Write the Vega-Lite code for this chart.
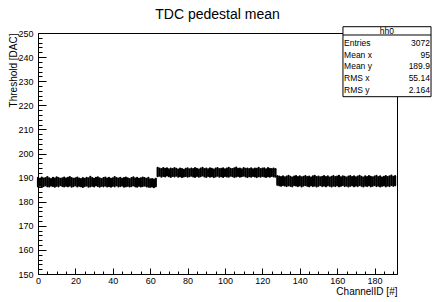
{
  "$schema": "https://vega.github.io/schema/vega-lite/v6.json",
  "width": 359,
  "height": 241,
  "autosize": {"type": "none"},
  "padding": {"left": 38, "top": 33, "right": 35, "bottom": 28},
  "background": "white",
  "config": {
    "view": {"stroke": "black", "strokeWidth": 1},
    "font": "Liberation Sans"
  },
  "title": {"text": "TDC pedestal mean", "font": "Liberation Sans", "fontSize": 14, "fontWeight": "normal", "color": "black", "offset": 4},
  "resolve": {"scale": {"x": "independent", "y": "independent"}},
  "layer": [
    {
      "data": {"values": [
        {"c":0,"lo":186.3,"hi":189.9},{"c":1,"lo":186.6,"hi":189.5},{"c":2,"lo":186.2,"hi":190.0},{"c":3,"lo":186.5,"hi":189.6},
        {"c":4,"lo":186.8,"hi":189.8},{"c":5,"lo":186.4,"hi":190.2},{"c":6,"lo":186.3,"hi":189.7},{"c":7,"lo":186.7,"hi":189.4},
        {"c":8,"lo":186.5,"hi":189.9},{"c":9,"lo":186.2,"hi":189.6},{"c":10,"lo":186.6,"hi":190.1},{"c":11,"lo":186.4,"hi":189.8},
        {"c":12,"lo":186.9,"hi":189.5},{"c":13,"lo":186.5,"hi":189.7},{"c":14,"lo":186.3,"hi":190.0},{"c":15,"lo":186.6,"hi":189.6},
        {"c":16,"lo":186.4,"hi":189.9},{"c":17,"lo":186.7,"hi":190.2},{"c":18,"lo":186.2,"hi":189.8},{"c":19,"lo":186.5,"hi":189.5},
        {"c":20,"lo":186.8,"hi":189.7},{"c":21,"lo":186.3,"hi":190.0},{"c":22,"lo":186.6,"hi":189.6},{"c":23,"lo":186.4,"hi":189.4},
        {"c":24,"lo":186.1,"hi":189.8},{"c":25,"lo":186.5,"hi":189.5},{"c":26,"lo":186.7,"hi":189.9},{"c":27,"lo":186.2,"hi":189.7},
        {"c":28,"lo":186.4,"hi":190.3},{"c":29,"lo":186.6,"hi":189.8},{"c":30,"lo":186.3,"hi":189.5},{"c":31,"lo":186.8,"hi":189.9},
        {"c":32,"lo":186.5,"hi":190.1},{"c":33,"lo":186.2,"hi":189.7},{"c":34,"lo":186.6,"hi":189.4},{"c":35,"lo":186.4,"hi":189.8},
        {"c":36,"lo":186.7,"hi":190.0},{"c":37,"lo":186.3,"hi":189.6},{"c":38,"lo":186.5,"hi":189.9},{"c":39,"lo":186.2,"hi":189.5},
        {"c":40,"lo":186.6,"hi":189.7},{"c":41,"lo":186.4,"hi":190.2},{"c":42,"lo":186.8,"hi":189.8},{"c":43,"lo":186.3,"hi":189.6},
        {"c":44,"lo":186.5,"hi":189.9},{"c":45,"lo":186.7,"hi":189.5},{"c":46,"lo":186.2,"hi":189.8},{"c":47,"lo":186.4,"hi":190.0},
        {"c":48,"lo":186.6,"hi":189.7},{"c":49,"lo":186.3,"hi":189.4},{"c":50,"lo":186.5,"hi":189.8},{"c":51,"lo":186.8,"hi":190.1},
        {"c":52,"lo":186.4,"hi":189.6},{"c":53,"lo":186.2,"hi":189.9},{"c":54,"lo":186.6,"hi":189.5},{"c":55,"lo":186.3,"hi":189.7},
        {"c":56,"lo":186.5,"hi":190.0},{"c":57,"lo":186.7,"hi":189.8},{"c":58,"lo":186.4,"hi":189.5},{"c":59,"lo":186.2,"hi":189.9},
        {"c":60,"lo":186.1,"hi":189.3},{"c":61,"lo":186.3,"hi":189.4},{"c":62,"lo":186.0,"hi":189.2},{"c":63,"lo":186.4,"hi":189.5},
        {"c":64,"lo":190.6,"hi":194.0},{"c":65,"lo":190.8,"hi":193.7},{"c":66,"lo":190.4,"hi":193.5},{"c":67,"lo":190.7,"hi":193.9},
        {"c":68,"lo":190.5,"hi":193.6},{"c":69,"lo":190.9,"hi":193.8},{"c":70,"lo":190.6,"hi":193.4},{"c":71,"lo":190.3,"hi":193.7},
        {"c":72,"lo":190.7,"hi":193.5},{"c":73,"lo":190.5,"hi":193.9},{"c":74,"lo":190.8,"hi":193.6},{"c":75,"lo":190.4,"hi":193.3},
        {"c":76,"lo":190.6,"hi":193.7},{"c":77,"lo":190.2,"hi":193.5},{"c":78,"lo":190.5,"hi":193.2},{"c":79,"lo":190.7,"hi":193.6},
        {"c":80,"lo":190.4,"hi":193.8},{"c":81,"lo":190.6,"hi":193.4},{"c":82,"lo":190.8,"hi":193.7},{"c":83,"lo":190.5,"hi":193.5},
        {"c":84,"lo":190.3,"hi":193.9},{"c":85,"lo":190.7,"hi":193.6},{"c":86,"lo":190.4,"hi":193.3},{"c":87,"lo":190.6,"hi":193.7},
        {"c":88,"lo":190.9,"hi":194.0},{"c":89,"lo":190.5,"hi":193.5},{"c":90,"lo":190.3,"hi":193.7},{"c":91,"lo":190.7,"hi":193.4},
        {"c":92,"lo":190.4,"hi":193.8},{"c":93,"lo":190.6,"hi":193.6},{"c":94,"lo":190.2,"hi":193.3},{"c":95,"lo":190.5,"hi":193.7},
        {"c":96,"lo":190.8,"hi":193.9},{"c":97,"lo":190.4,"hi":193.5},{"c":98,"lo":190.6,"hi":193.6},{"c":99,"lo":190.3,"hi":193.8},
        {"c":100,"lo":190.7,"hi":193.4},{"c":101,"lo":190.5,"hi":193.7},{"c":102,"lo":190.4,"hi":194.0},{"c":103,"lo":190.8,"hi":193.6},
        {"c":104,"lo":190.6,"hi":193.5},{"c":105,"lo":190.3,"hi":193.8},{"c":106,"lo":190.5,"hi":194.1},{"c":107,"lo":190.7,"hi":193.6},
        {"c":108,"lo":190.4,"hi":193.7},{"c":109,"lo":190.6,"hi":193.4},{"c":110,"lo":190.8,"hi":193.9},{"c":111,"lo":190.5,"hi":193.6},
        {"c":112,"lo":190.3,"hi":193.7},{"c":113,"lo":190.6,"hi":193.5},{"c":114,"lo":190.4,"hi":193.8},{"c":115,"lo":190.7,"hi":193.4},
        {"c":116,"lo":190.5,"hi":193.7},{"c":117,"lo":190.2,"hi":193.6},{"c":118,"lo":190.6,"hi":194.0},{"c":119,"lo":190.4,"hi":193.5},
        {"c":120,"lo":190.7,"hi":193.7},{"c":121,"lo":190.5,"hi":193.8},{"c":122,"lo":190.3,"hi":193.4},{"c":123,"lo":190.6,"hi":193.9},
        {"c":124,"lo":190.4,"hi":193.6},{"c":125,"lo":190.7,"hi":193.5},{"c":126,"lo":190.5,"hi":193.7},{"c":127,"lo":190.4,"hi":193.5},
        {"c":128,"lo":187.0,"hi":190.6},{"c":129,"lo":186.8,"hi":190.4},{"c":130,"lo":186.6,"hi":190.2},{"c":131,"lo":186.9,"hi":190.5},
        {"c":132,"lo":186.7,"hi":190.1},{"c":133,"lo":186.5,"hi":190.4},{"c":134,"lo":186.8,"hi":190.7},{"c":135,"lo":186.6,"hi":190.3},
        {"c":136,"lo":186.4,"hi":190.0},{"c":137,"lo":186.9,"hi":190.4},{"c":138,"lo":186.7,"hi":190.6},{"c":139,"lo":186.5,"hi":190.2},
        {"c":140,"lo":186.8,"hi":190.5},{"c":141,"lo":186.3,"hi":190.1},{"c":142,"lo":186.7,"hi":190.3},{"c":143,"lo":186.9,"hi":190.6},
        {"c":144,"lo":186.6,"hi":190.2},{"c":145,"lo":186.4,"hi":190.4},{"c":146,"lo":186.8,"hi":190.0},{"c":147,"lo":186.5,"hi":190.5},
        {"c":148,"lo":186.7,"hi":190.7},{"c":149,"lo":186.3,"hi":190.2},{"c":150,"lo":186.6,"hi":190.4},{"c":151,"lo":186.9,"hi":190.1},
        {"c":152,"lo":186.5,"hi":190.3},{"c":153,"lo":186.7,"hi":190.6},{"c":154,"lo":186.4,"hi":190.2},{"c":155,"lo":186.8,"hi":190.5},
        {"c":156,"lo":186.6,"hi":190.0},{"c":157,"lo":186.3,"hi":190.3},{"c":158,"lo":186.7,"hi":190.6},{"c":159,"lo":186.5,"hi":190.2},
        {"c":160,"lo":186.8,"hi":190.4},{"c":161,"lo":186.4,"hi":190.7},{"c":162,"lo":186.6,"hi":190.1},{"c":163,"lo":186.9,"hi":190.5},
        {"c":164,"lo":186.5,"hi":190.3},{"c":165,"lo":186.7,"hi":190.0},{"c":166,"lo":186.3,"hi":190.4},{"c":167,"lo":186.6,"hi":190.6},
        {"c":168,"lo":186.8,"hi":190.2},{"c":169,"lo":186.4,"hi":190.5},{"c":170,"lo":186.7,"hi":190.1},{"c":171,"lo":186.5,"hi":190.4},
        {"c":172,"lo":186.9,"hi":190.7},{"c":173,"lo":186.6,"hi":190.3},{"c":174,"lo":186.3,"hi":190.0},{"c":175,"lo":186.7,"hi":190.5},
        {"c":176,"lo":186.5,"hi":190.2},{"c":177,"lo":186.8,"hi":190.6},{"c":178,"lo":186.4,"hi":190.3},{"c":179,"lo":186.6,"hi":190.1},
        {"c":180,"lo":186.9,"hi":190.4},{"c":181,"lo":186.5,"hi":190.7},{"c":182,"lo":186.7,"hi":190.2},{"c":183,"lo":186.3,"hi":190.5},
        {"c":184,"lo":186.6,"hi":190.0},{"c":185,"lo":186.8,"hi":190.3},{"c":186,"lo":186.4,"hi":190.6},{"c":187,"lo":186.7,"hi":190.2},
        {"c":188,"lo":186.5,"hi":190.5},{"c":189,"lo":186.9,"hi":190.8},{"c":190,"lo":186.6,"hi":190.3},{"c":191,"lo":186.8,"hi":190.6}
      ]},
      "mark": {"type": "rule", "color": "black", "strokeWidth": 2.2, "strokeCap": "round"},
      "encoding": {
        "x": {"field": "c", "type": "quantitative", "scale": {"domain": [0, 192], "nice": false, "zero": false},
          "axis": {"title": "ChannelID [#]", "grid": false,
            "values": [0,5,10,15,20,25,30,35,40,45,50,55,60,65,70,75,80,85,90,95,100,105,110,115,120,125,130,135,140,145,150,155,160,165,170,175,180,185,190],
            "labelExpr": "datum.value % 20 === 0 ? datum.label : ''",
            "tickSize": {"expr": "datum.value % 20 === 0 ? -6 : -3"},
            "tickColor": "black", "domainColor": "black", "labelColor": "black",
            "labelFont": "Liberation Sans", "labelFontSize": 9, "labelPadding": 8, "labelFlush": false, "labelOverlap": false,
            "titleFont": "Liberation Sans", "titleFontSize": 10, "titleFontWeight": "normal", "titleColor": "black",
            "titleAnchor": "end", "titleAlign": "right", "titlePadding": -2}},
        "y": {"field": "lo", "type": "quantitative", "scale": {"domain": [150, 250], "nice": false, "zero": false},
          "axis": {"title": "Threshold [DAC]", "grid": false,
            "values": [150,152,154,156,158,160,162,164,166,168,170,172,174,176,178,180,182,184,186,188,190,192,194,196,198,200,202,204,206,208,210,212,214,216,218,220,222,224,226,228,230,232,234,236,238,240,242,244,246,248,250],
            "labelExpr": "datum.value % 10 === 0 ? datum.label : ''",
            "tickSize": {"expr": "datum.value % 10 === 0 ? -8 : -4"},
            "tickColor": "black", "domainColor": "black", "labelColor": "black",
            "labelFont": "Liberation Sans", "labelFontSize": 9, "labelPadding": 13, "labelFlush": false, "labelOverlap": false,
            "titleFont": "Liberation Sans", "titleFontSize": 10, "titleFontWeight": "normal", "titleColor": "black",
            "titleAnchor": "end", "titlePadding": -1}},
        "y2": {"field": "hi"}
      }
    },
    {
      "layer": [
        {
          "data": {"values": [{"name": "hh0"}]},
          "mark": {"type": "rect", "fill": "white", "stroke": "black", "strokeWidth": 1},
          "encoding": {
            "x": {"datum": 163.1, "type": "quantitative", "scale": {"domain": [0, 192], "nice": false, "zero": false}, "axis": null},
            "x2": {"datum": 210.2},
            "y": {"datum": -0.336, "type": "quantitative", "scale": {"domain": [0.193, 20.446], "nice": false, "zero": false, "reverse": true}, "axis": null},
            "y2": {"datum": 5.546}
          }
        },
        {
          "data": {"values": [{"name": "hh0"}]},
          "mark": {"type": "rule", "color": "black", "strokeWidth": 1},
          "encoding": {
            "x": {"datum": 163.1, "type": "quantitative", "scale": {"domain": [0, 192], "nice": false, "zero": false}, "axis": null},
            "x2": {"datum": 210.2},
            "y": {"datum": 0.361, "type": "quantitative", "scale": {"domain": [0.193, 20.446], "nice": false, "zero": false, "reverse": true}, "axis": null}
          }
        },
        {
          "data": {"values": [{"name": "hh0"}]},
          "mark": {"type": "text", "font": "Liberation Sans", "fontSize": 8.5, "color": "black", "align": "center", "baseline": "middle"},
          "encoding": {
            "x": {"datum": 186.6, "type": "quantitative", "scale": {"domain": [0, 192], "nice": false, "zero": false}, "axis": null},
            "y": {"datum": 0, "type": "quantitative", "scale": {"domain": [0.193, 20.446], "nice": false, "zero": false, "reverse": true}, "axis": null},
            "text": {"field": "name"}
          }
        },
        {
          "data": {"values": [
            {"i": 1, "k": "Entries", "v": "3072"},
            {"i": 2, "k": "Mean x", "v": "95"},
            {"i": 3, "k": "Mean y", "v": "189.9"},
            {"i": 4, "k": "RMS x", "v": "55.14"},
            {"i": 5, "k": "RMS y", "v": "2.164"}
          ]},
          "layer": [
            {
              "mark": {"type": "text", "font": "Liberation Sans", "fontSize": 8.5, "color": "black", "align": "left", "baseline": "middle"},
              "encoding": {
                "x": {"datum": 163.7, "type": "quantitative", "scale": {"domain": [0, 192], "nice": false, "zero": false}, "axis": null},
                "y": {"field": "i", "type": "quantitative", "scale": {"domain": [0.193, 20.446], "nice": false, "zero": false, "reverse": true}, "axis": null},
                "text": {"field": "k"}
              }
            },
            {
              "mark": {"type": "text", "font": "Liberation Sans", "fontSize": 8.5, "color": "black", "align": "right", "baseline": "middle"},
              "encoding": {
                "x": {"datum": 209.6, "type": "quantitative", "scale": {"domain": [0, 192], "nice": false, "zero": false}, "axis": null},
                "y": {"field": "i", "type": "quantitative", "scale": {"domain": [0.193, 20.446], "nice": false, "zero": false, "reverse": true}, "axis": null},
                "text": {"field": "v"}
              }
            }
          ]
        }
      ]
    }
  ]
}
